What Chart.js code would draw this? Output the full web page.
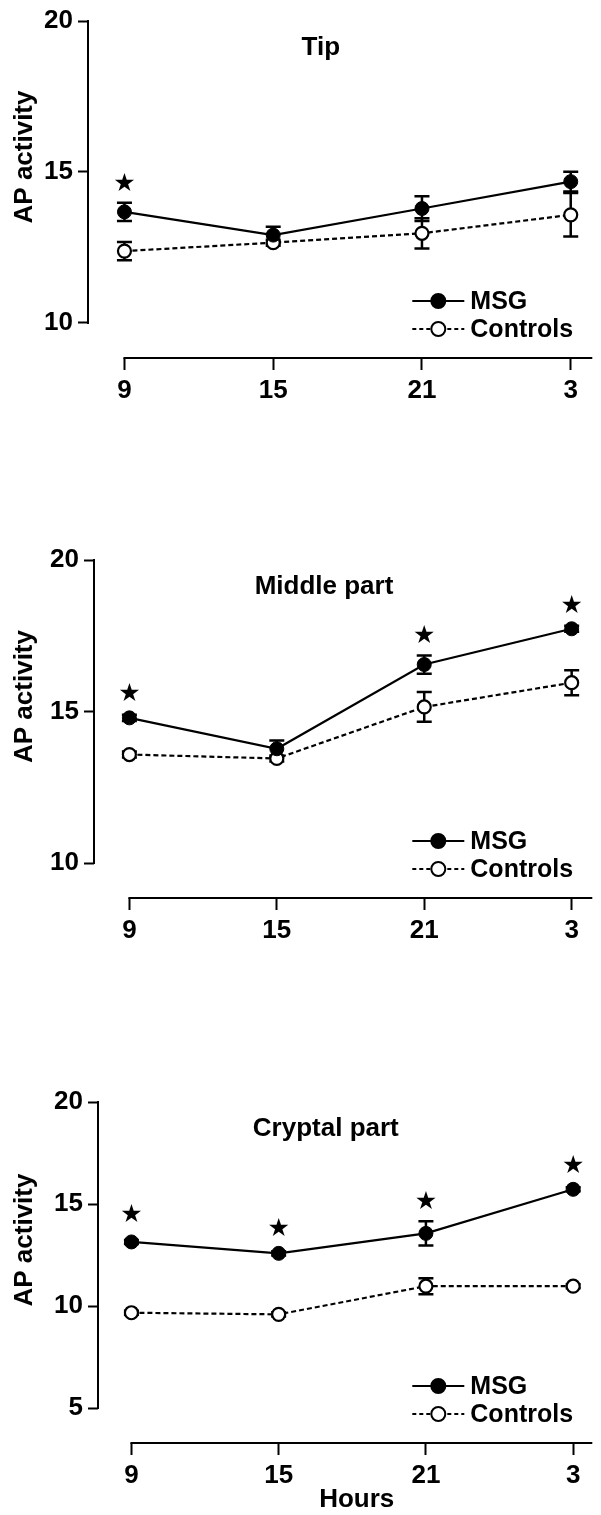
<!DOCTYPE html>
<html>
<head>
<meta charset="utf-8">
<script src="https://cdn.jsdelivr.net/npm/chart.js@4.4.1/dist/chart.umd.min.js"></script>
<style>
  html, body { margin: 0; padding: 0; background: #fff; }
  body { width: 601px; height: 1515px; position: relative; overflow: hidden; }
  canvas { position: absolute; left: 0; }
</style>
</head>
<body>
<canvas id="tip" width="601" height="418" style="top:0px"></canvas>
<canvas id="middle" width="601" height="419" style="top:539px"></canvas>
<canvas id="cryptal" width="601" height="434" style="top:1081px"></canvas>
<script>
// data
const hours = ["9", "15", "21", "3"];

const tipMsg = [13.68, 12.91, 13.79, 14.68];
const tipMsgErr = [0.3, 0.28, 0.41, 0.33];
const tipCtrl = [12.38, 12.66, 12.97, 13.58];
const tipCtrlErr = [0.3, 0.1, 0.5, 0.72];
const tipStars = [14.6, null, null, null];

const midMsg = [14.79, 13.77, 16.55, 17.73];
const midMsgErr = [0.1, 0.27, 0.3, 0.1];
const midCtrl = [13.58, 13.45, 15.15, 15.95];
const midCtrlErr = [0.1, 0.1, 0.49, 0.41];
const midStars = [15.56, null, 17.46, 18.46];

const cryMsg = [13.14, 12.58, 13.56, 15.72];
const cryMsgErr = [0.1, 0.1, 0.6, 0.1];
const cryCtrl = [9.67, 9.59, 10.97, 10.97];
const cryCtrlErr = [0.1, 0.1, 0.39, 0.1];
const cryStars = [14.45, 13.77, 15.07, 16.86];

const yTicksTop = [10, 15, 20];
const yTicksBottom = [5, 10, 15, 20];

const FONT = "'Liberation Sans', Arial, Helvetica, sans-serif";
Chart.defaults.font.family = FONT;
Chart.defaults.color = "#000";

function pts(vals) {
  return vals.map((v, i) => ({ x: i, y: v }));
}

function drawMarker(ctx, x, y, filled) {
  ctx.beginPath();
  ctx.arc(x, y, 7, 0, Math.PI * 2);
  ctx.fillStyle = filled ? "#000" : "#fff";
  ctx.fill();
  ctx.lineWidth = 2;
  ctx.strokeStyle = "#000";
  ctx.stroke();
}

function makeDecor(p) {
  return {
    id: "decor",
    beforeDatasetsDraw(chart) {
      // error bars
      const { ctx, scales: { x, y } } = chart;
      ctx.save();
      ctx.strokeStyle = "#000";
      ctx.lineWidth = 2.5;
      [[p.msg, p.msgErr], [p.ctrl, p.ctrlErr]].forEach(([mean, err]) => {
        err.forEach((e, i) => {
          const px = x.getPixelForValue(i);
          const t = y.getPixelForValue(mean[i] + e);
          const b = y.getPixelForValue(mean[i] - e);
          ctx.beginPath();
          ctx.moveTo(px, t); ctx.lineTo(px, b);
          ctx.moveTo(px - 7.5, t); ctx.lineTo(px + 7.5, t);
          ctx.moveTo(px - 7.5, b); ctx.lineTo(px + 7.5, b);
          ctx.stroke();
        });
      });
      ctx.restore();
    },
    afterDraw(chart) {
      const { ctx, chartArea: a, scales: { x, y } } = chart;
      ctx.save();
      ctx.strokeStyle = "#000";
      ctx.lineWidth = 2;
      // offset axis lines
      const yTop = y.getPixelForValue(p.yTicks[p.yTicks.length - 1]);
      const yBot = y.getPixelForValue(p.yTicks[0]);
      ctx.beginPath();
      ctx.moveTo(a.left, yTop - 1); ctx.lineTo(a.left, yBot + 1);
      ctx.moveTo(x.getPixelForValue(0) - 1, a.bottom); ctx.lineTo(a.right, a.bottom);
      ctx.stroke();

      // significance stars
      ctx.fillStyle = "#000";
      ctx.font = "25px 'DejaVu Sans'";
      ctx.textAlign = "center";
      ctx.textBaseline = "middle";
      p.stars.forEach((s, i) => {
        if (s !== null) ctx.fillText("\u2605", x.getPixelForValue(i), y.getPixelForValue(s));
      });

      // panel title
      ctx.font = "bold 26px " + FONT;
      ctx.fillText(p.title, x.getPixelForValue(1.32), a.top + 27);

      // y axis title
      ctx.save();
      ctx.translate(25, (yTop + yBot) / 2 - 15);
      ctx.rotate(-Math.PI / 2);
      ctx.fillText("AP activity", 0, 0);
      ctx.restore();

      // x axis title
      if (p.xTitle) {
        ctx.fillText(p.xTitle, x.getPixelForValue(1.53), a.bottom + 57);
      }

      // legend
      const L = a.right - 180;
      const rows = [
        { label: "MSG", y: a.bottom - 57, filled: true, dash: [] },
        { label: "Controls", y: a.bottom - 29, filled: false, dash: [4, 3] }
      ];
      rows.forEach(r => {
        ctx.setLineDash(r.dash);
        ctx.lineWidth = 2;
        ctx.beginPath();
        ctx.moveTo(L, r.y); ctx.lineTo(L + 52, r.y);
        ctx.stroke();
        ctx.setLineDash([]);
        drawMarker(ctx, L + 26, r.y, r.filled);
        ctx.fillStyle = "#000";
        ctx.font = "bold 25px " + FONT;
        ctx.textAlign = "left";
        ctx.fillText(r.label, L + 58, r.y + 1);
      });
      ctx.restore();
    }
  };
}

function panelChart(id, p) {
  new Chart(document.getElementById(id), {
    type: "line",
    data: {
      datasets: [
        {
          label: "MSG",
          data: pts(p.msg),
          borderColor: "#000",
          borderWidth: 2.2,
          pointRadius: 7,
          pointBackgroundColor: "#000",
          pointBorderColor: "#000",
          pointBorderWidth: 1,
          tension: 0
        },
        {
          label: "Controls",
          data: pts(p.ctrl),
          borderColor: "#000",
          borderWidth: 2.2,
          borderDash: [5, 3],
          pointRadius: 6.5,
          pointBackgroundColor: "#fff",
          pointBorderColor: "#000",
          pointBorderWidth: 2.2,
          tension: 0
        }
      ]
    },
    options: {
      responsive: false,
      animation: false,
      devicePixelRatio: 1,
      layout: { padding: { top: 21, left: 0, right: 0, bottom: 0 } },
      plugins: { legend: { display: false }, tooltip: { enabled: false } },
      scales: {
        x: {
          type: "linear",
          min: p.xMin,
          max: p.xMax,
          afterBuildTicks: s => { s.ticks = hours.map((h, i) => ({ value: i })); },
          afterFit: s => { s.height = p.xHeight; },
          border: { display: false },
          grid: { drawOnChartArea: false, drawTicks: true, tickLength: 12, tickWidth: 2, tickColor: "#000" },
          ticks: {
            padding: 5,
            color: "#000",
            font: { size: 26, weight: "bold" },
            callback: v => hours[v]
          }
        },
        y: {
          min: p.yMin,
          max: p.yMax,
          afterBuildTicks: s => { s.ticks = p.yTicks.map(v => ({ value: v })); },
          afterFit: s => { s.width = p.yWidth; },
          border: { display: false },
          grid: { drawOnChartArea: false, drawTicks: true, tickLength: 10, tickWidth: 2, tickColor: "#000" },
          ticks: {
            padding: 5,
            color: "#000",
            font: { size: 26, weight: "bold" }
          }
        }
      }
    },
    plugins: [makeDecor(p)]
  });
}

panelChart("tip", {
  title: "Tip", msg: tipMsg, msgErr: tipMsgErr, ctrl: tipCtrl, ctrlErr: tipCtrlErr, stars: tipStars,
  yTicks: yTicksTop, yMin: 8.84, yMax: 20, yWidth: 88, xMin: -0.245, xMax: 3.145, xHeight: 60
});
panelChart("middle", {
  title: "Middle part", msg: midMsg, msgErr: midMsgErr, ctrl: midCtrl, ctrlErr: midCtrlErr, stars: midStars,
  yTicks: yTicksTop, yMin: 8.845, yMax: 20, yWidth: 94, xMin: -0.24, xMax: 3.14, xHeight: 60
});
panelChart("cryptal", {
  title: "Cryptal part", msg: cryMsg, msgErr: cryMsgErr, ctrl: cryCtrl, ctrlErr: cryCtrlErr, stars: cryStars,
  yTicks: yTicksBottom, yMin: 3.285, yMax: 20, yWidth: 98, xMin: -0.227, xMax: 3.13, xHeight: 72,
  xTitle: "Hours"
});
</script>
</body>
</html>
